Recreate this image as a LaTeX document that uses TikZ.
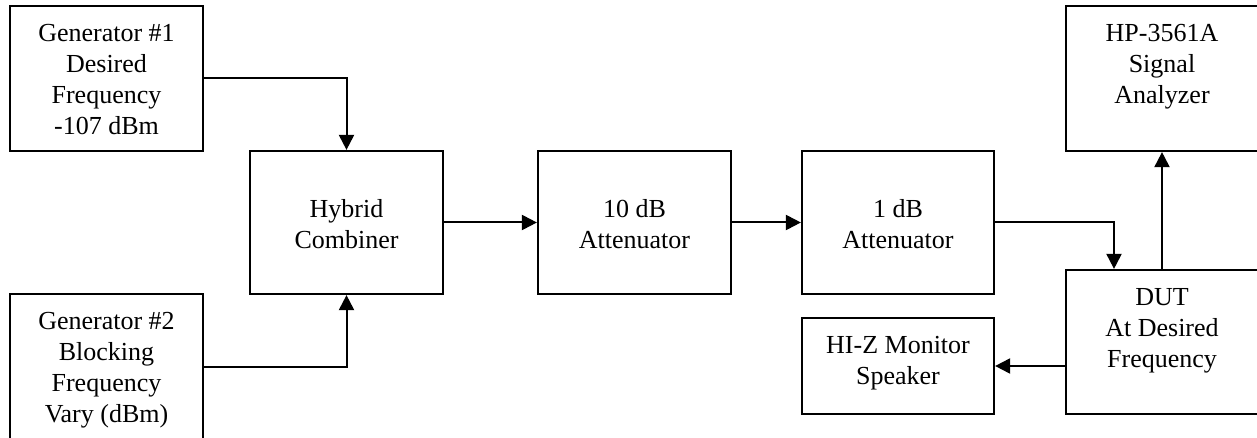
\documentclass[tikz,border=0pt]{standalone}
\usepackage{fontspec}
\setmainfont{Liberation Serif}
\usetikzlibrary{arrows.meta}
\begin{document}
\begin{tikzpicture}[x=1pt,y=-1pt,
  box/.style={draw,line width=2.2pt,rectangle,inner sep=0pt},
  txt/.style={anchor=north,align=center,inner sep=0pt,font=\fontsize{26}{31}\selectfont},
  conn/.style={line width=2pt,-{Triangle[length=15pt,width=15pt]}}]
\useasboundingbox (0,0) rectangle (1257,438);
% boxes
\node[box,minimum width=193pt,minimum height=145pt] (gen1) at (106.5,78.5) {};
\node[box,minimum width=193pt,minimum height=145pt] (gen2) at (106.5,366.5) {};
\node[box,minimum width=193pt,minimum height=143pt] (hyb) at (346.5,222.5) {};
\node[box,minimum width=193pt,minimum height=143pt] (ten) at (634.5,222.5) {};
\node[box,minimum width=192pt,minimum height=143pt] (one) at (898,222.5) {};
\node[box,minimum width=192pt,minimum height=145pt] (hp) at (1162,78.5) {};
\node[box,minimum width=192pt,minimum height=144pt] (dut) at (1162,342) {};
\node[box,minimum width=192pt,minimum height=96pt] (hiz) at (898,366) {};
% texts
\node[txt] (tgen1) at ([yshift=-15pt]gen1.north) {\strut Generator \#1\\Desired\\Frequency\\-107 dBm};
\node[txt] (tgen2) at ([yshift=-15pt]gen2.north) {\strut Generator \#2\\Blocking\\Frequency\\Vary (dBm)};
\node[txt] (thyb) at ([yshift=-15pt]hyb.north) {\strut\\Hybrid\\Combiner};
\node[txt] (tten) at ([yshift=-15pt]ten.north) {\strut\\10 dB\\Attenuator};
\node[txt] (tone) at ([yshift=-15pt]one.north) {\strut\\1 dB\\Attenuator};
\node[txt] (thp) at ([yshift=-15pt]hp.north) {\strut HP-3561A\\Signal\\Analyzer};
\node[txt] (tdut) at ([yshift=-15pt]dut.north) {\strut DUT\\At Desired\\Frequency};
\node[txt] (thiz) at ([yshift=-15pt]hiz.north) {\strut HI-Z Monitor\\Speaker};
% connectors
\draw[conn] (gen1.east) -| (hyb.north);
\draw[conn] (gen2.east) -| (hyb.south);
\draw[conn] (hyb.east) -- (ten.west);
\draw[conn] (ten.east) -- (one.west);
\draw[conn] (one.east) -| ([xshift=-48pt]dut.north);
\draw[conn] (dut.north) -- (hp.south);
\draw[conn] (hiz.east -| dut.west) -- (hiz.east);
\end{tikzpicture}
\end{document}
